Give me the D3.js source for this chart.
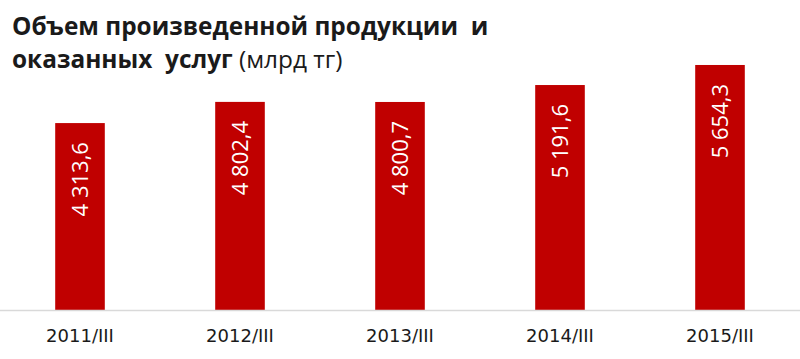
<!DOCTYPE html>
<html>
<head>
<meta charset="utf-8">
<script src="https://cdn.jsdelivr.net/npm/d3@7"></script>
<style>
  html, body { margin: 0; padding: 0; background: #fff; }
  svg { display: block; }
</style>
</head>
<body>
<svg id="chart"></svg>
<script>
const categories = ["2011/III", "2012/III", "2013/III", "2014/III", "2015/III"];
const values = [4313.6, 4802.4, 4800.7, 5191.6, 5654.3];
const valueLabels = ["4 313,6", "4 802,4", "4 800,7", "5 191,6", "5 654,3"];

const width = 800;
const height = 359;
const baseY = 310;

const svg = d3.select("#chart")
    .attr("width", width)
    .attr("height", height);

const x = d3.scaleBand()
    .domain(categories)
    .range([0, width])
    .paddingInner(0.69)
    .paddingOuter(0.345);

const y = d3.scaleLinear()
    .domain([0, 6000])
    .range([baseY, baseY - 260]);

// title
const title = svg.append("text")
    .attr("x", 12)
    .attr("font-family", "'Open Sans', sans-serif")
    .attr("font-size", 24.4)
    .attr("fill", "#1a1a1a")
    .style("white-space", "pre");

title.append("tspan")
    .attr("x", 12).attr("y", 35)
    .attr("font-weight", "bold")
    .text("Объем произведенной продукции  и");

const line2 = title.append("tspan")
    .attr("x", 12).attr("y", 68);
line2.append("tspan").attr("font-weight", "bold").text("оказанных  услуг");
line2.append("tspan").attr("font-weight", "normal").text(" (млрд тг)");

// bars
svg.append("g")
    .selectAll("rect")
    .data(values)
    .join("rect")
    .attr("x", (d, i) => x(categories[i]))
    .attr("y", d => y(d))
    .attr("width", x.bandwidth())
    .attr("height", d => y(0) - y(d))
    .attr("fill", "#c00000");

// value labels, rotated
svg.append("g")
    .selectAll("text")
    .data(values)
    .join("text")
    .attr("transform", (d, i) => `translate(${x(categories[i]) + x.bandwidth() / 2 + 8},${y(d) + 19}) rotate(-90)`)
    .attr("text-anchor", "end")
    .attr("font-family", "'Open Sans', sans-serif")
    .attr("font-size", 22)
    .attr("fill", "#fff")
    .style("white-space", "pre")
    .text((d, i) => valueLabels[i]);

// baseline + category labels
svg.append("g")
    .attr("transform", `translate(0,${baseY})`)
    .call(d3.axisBottom(x).tickSize(0).tickPadding(19))
    .call(g => g.select(".domain")
        .attr("d", `M0,0.5H${width}`)
        .attr("stroke", "#d9d9d9")
        .attr("stroke-width", 1.5))
    .call(g => g.selectAll(".tick text")
        .attr("font-family", "'DejaVu Sans', sans-serif")
        .attr("font-size", 18)
        .attr("fill", "#1a1a1a"));
</script>
</body>
</html>
